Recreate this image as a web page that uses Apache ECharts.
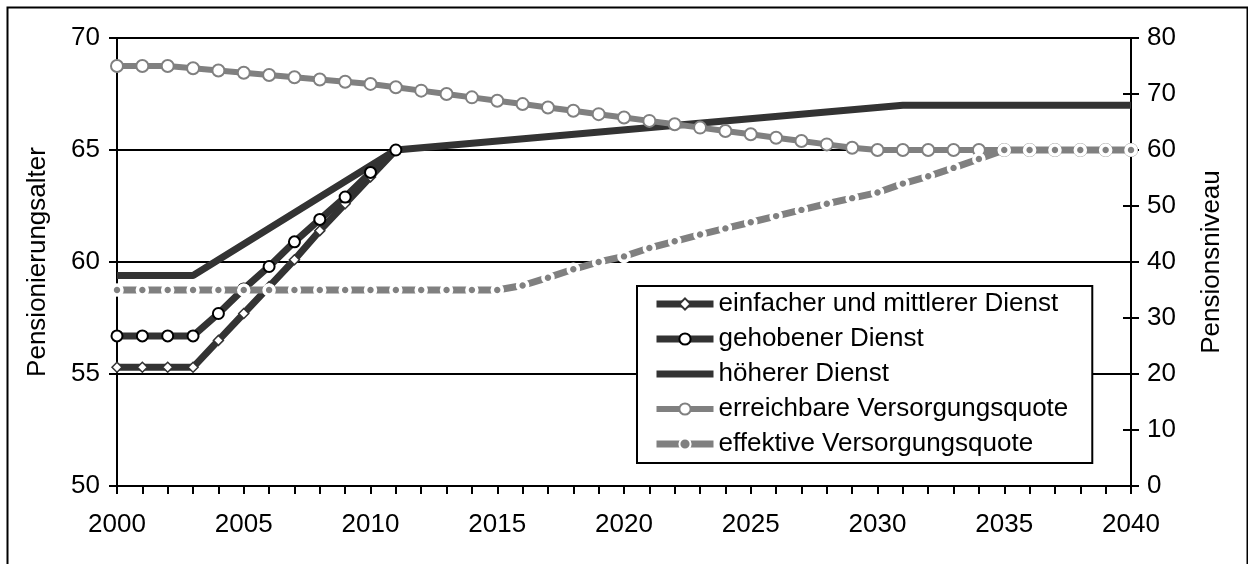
<!DOCTYPE html>
<html>
<head>
<meta charset="utf-8">
<script src="https://cdn.jsdelivr.net/npm/echarts@6/dist/echarts.min.js"></script>
<style>
html,body{margin:0;padding:0;background:#fff;}
#chart{width:1248px;height:564px;}
</style>
</head>
<body>
<div id="chart"></div>
<script>
// ---- data ----
const seriesNames = ['einfacher und mittlerer Dienst','gehobener Dienst','höherer Dienst','erreichbare Versorgungsquote','effektive Versorgungsquote'];
const xTickYears = [2000,2005,2010,2015,2020,2025,2030,2035,2040];

// einfacher und mittlerer Dienst (left axis), 2000..2011
const yearsEinfacher = [2000,2001,2002,2003,2004,2005,2006,2007,2008,2009,2010,2011];
const einfacher = [55.3,55.3,55.3,55.3,56.5,57.7,58.9,60.1,61.4,62.6,63.8,65.0];

// gehobener Dienst (left axis), 2000..2011
const yearsGehobener = [2000,2001,2002,2003,2004,2005,2006,2007,2008,2009,2010,2011];
const gehobener = [56.7,56.7,56.7,56.7,57.7,58.8,59.8,60.9,61.9,62.9,64.0,65.0];

// höherer Dienst (left axis), breakpoints of the line
const yearsHoeherer = [2000,2003,2011,2031,2040];
const hoeherer = [59.4,59.4,65.0,67.0,67.0];

// Versorgungsquoten (right axis), 2000..2040
const yearsQuote = [2000,2001,2002,2003,2004,2005,2006,2007,2008,2009,
                    2010,2011,2012,2013,2014,2015,2016,2017,2018,2019,
                    2020,2021,2022,2023,2024,2025,2026,2027,2028,2029,
                    2030,2031,2032,2033,2034,2035,2036,2037,2038,2039,2040];
const erreichbar = [75.0,75.0,75.0,74.6,74.2,73.8,73.4,73.0,72.6,72.2,
                    71.8,71.2,70.6,70.0,69.4,68.8,68.2,67.6,67.0,66.4,
                    65.8,65.2,64.6,64.0,63.4,62.8,62.2,61.6,61.0,60.4,
                    60.0,60.0,60.0,60.0,60.0,60.0,60.0,60.0,60.0,60.0,60.0];
const effektiv = [35.0,35.0,35.0,35.0,35.0,35.0,35.0,35.0,35.0,35.0,
                  35.0,35.0,35.0,35.0,35.0,35.0,35.8,37.2,38.7,40.0,
                  41.0,42.5,43.7,44.9,46.0,47.1,48.2,49.3,50.4,51.4,
                  52.4,54.0,55.3,56.8,58.4,60.0,60.0,60.0,60.0,60.0,60.0];

// ---- chart ----
const zip = (xs, ys) => xs.map((x, i) => [x, ys[i]]);
const FONT = "'Liberation Sans', Arial, sans-serif";
const DARK = '#333333';
const GRAY = '#808080';
const FS = 26;

const chart = echarts.init(document.getElementById('chart'), null, {renderer: 'canvas'});
chart.setOption({
  animation: false,
  backgroundColor: '#fff',
  textStyle: {fontFamily: FONT, color: '#000'},
  graphic: [{
    type: 'rect', left: 5, top: 5, z: 100, silent: true,
    shape: {x: 0, y: 0, width: 1240, height: 600},
    style: {fill: 'none', stroke: '#000', lineWidth: 2}
  }],
  grid: {left: 117, right: 117, top: 38, bottom: 78, containLabel: false},
  xAxis: {
    type: 'value', min: 2000, max: 2040, interval: 5,
    axisLine: {show: true, lineStyle: {color: '#000', width: 2}},
    axisTick: {show: true, inside: false, length: 8, lineStyle: {color: '#000', width: 2}},
    minorTick: {show: true, splitNumber: 5, length: 8, lineStyle: {color: '#000', width: 2}},
    splitLine: {show: false},
    axisLabel: {fontFamily: FONT, fontSize: FS, color: '#000', margin: 26,
      formatter: v => (xTickYears.indexOf(v) >= 0 ? String(v) : '')}
  },
  yAxis: [{
    type: 'value', position: 'left', min: 50, max: 70, interval: 5,
    name: 'Pensionierungsalter', nameLocation: 'middle', nameRotate: 90, nameGap: 66,
    nameTextStyle: {fontFamily: FONT, fontSize: FS, color: '#000'},
    axisLine: {show: true, lineStyle: {color: '#000', width: 2}},
    axisTick: {show: true, length: 8, lineStyle: {color: '#000', width: 2}},
    splitLine: {show: true, lineStyle: {color: '#000', width: 2}},
    axisLabel: {fontFamily: FONT, fontSize: FS, color: '#000', margin: 17}
  }, {
    type: 'value', position: 'right', min: 0, max: 80, interval: 10,
    name: 'Pensionsniveau', nameLocation: 'middle', nameRotate: 90, nameGap: 68,
    nameTextStyle: {fontFamily: FONT, fontSize: FS, color: '#000'},
    axisLine: {show: true, lineStyle: {color: '#000', width: 2}},
    axisTick: {show: true, length: 8, lineStyle: {color: '#000', width: 2}},
    splitLine: {show: false},
    axisLabel: {fontFamily: FONT, fontSize: FS, color: '#000', margin: 16}
  }, {
    type: 'value', position: 'right', min: 0, max: 80, interval: 10,
    axisLine: {show: false},
    axisTick: {show: true, inside: true, length: 8, lineStyle: {color: '#000', width: 2}},
    splitLine: {show: false},
    axisLabel: {show: false}
  }],
  legend: {
    left: 637, top: 286, orient: 'vertical',
    backgroundColor: '#fff', borderColor: '#000', borderWidth: 2,
    padding: [5, 24, 6, 16], itemGap: 9, itemWidth: 57, itemHeight: 14,
    lineStyle: {width: 'inherit'},
    textStyle: {fontFamily: FONT, fontSize: FS, color: '#000', lineHeight: 26},
    data: [
      {name: seriesNames[0]},
      {name: seriesNames[1]},
      {name: seriesNames[2], itemStyle: {color: 'rgba(0,0,0,0)', borderWidth: 0, opacity: 0}},
      {name: seriesNames[3]},
      {name: seriesNames[4]}
    ]
  },
  series: [{
    name: seriesNames[0], type: 'line', yAxisIndex: 0,
    data: zip(yearsEinfacher, einfacher),
    lineStyle: {color: DARK, width: 7},
    itemStyle: {color: '#fff', borderColor: DARK, borderWidth: 1.5},
    symbol: 'diamond', symbolSize: 10, showAllSymbol: true
  }, {
    name: seriesNames[1], type: 'line', yAxisIndex: 0,
    data: zip(yearsGehobener, gehobener),
    lineStyle: {color: DARK, width: 7},
    itemStyle: {color: '#fff', borderColor: '#000', borderWidth: 2},
    symbol: 'circle', symbolSize: 11, showAllSymbol: true
  }, {
    name: seriesNames[2], type: 'line', yAxisIndex: 0,
    data: zip(yearsHoeherer, hoeherer),
    lineStyle: {color: DARK, width: 7},
    itemStyle: {color: DARK},
    symbol: 'none'
  }, {
    name: seriesNames[3], type: 'line', yAxisIndex: 1,
    data: zip(yearsQuote, erreichbar),
    lineStyle: {color: GRAY, width: 6},
    itemStyle: {color: '#fff', borderColor: GRAY, borderWidth: 2},
    symbol: 'circle', symbolSize: 12, showAllSymbol: true
  }, {
    name: seriesNames[4], type: 'line', yAxisIndex: 1,
    data: zip(yearsQuote, effektiv),
    lineStyle: {color: GRAY, width: 7},
    itemStyle: {color: GRAY, borderColor: '#fff', borderWidth: 3.6},
    symbol: 'circle', symbolSize: 10, showAllSymbol: true
  }]
});
</script>
</body>
</html>
